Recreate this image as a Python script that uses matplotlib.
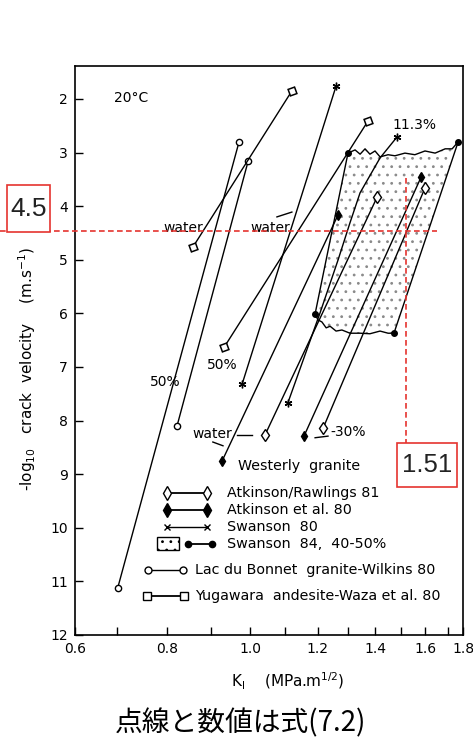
import matplotlib
matplotlib.use('Agg')
import matplotlib.pyplot as plt
from matplotlib.patches import Rectangle, Polygon
from matplotlib.ticker import FixedLocator, NullLocator

# values: K_I (MPa.m^1/2) vs -log10 crack velocity (m/s)
# Atkinson/Rawlings 81 (open diamonds)
ar_k1 = [1.407, 1.041]
ar_v1 = [3.83, 8.27]
ar_k2 = [1.600, 1.217]
ar_v2 = [3.66, 8.14]
# Atkinson et al. 80 (filled diamonds)
ae_k1 = [1.267, 0.928]
ae_v1 = [4.16, 8.75]
ae_k2 = [1.583, 1.156]
ae_v2 = [3.46, 8.29]
# Swanson 80 (stars)
s80_k1 = [1.260, 0.979]
s80_v1 = [1.76, 7.32]
s80_k2 = [1.484, 1.418, 1.344, 1.308, 1.267, 1.207, 1.107]
s80_v2 = [2.71, 3.10, 3.75, 4.31, 5.00, 5.99, 7.67]
# Swanson 84, 40-50% (dots + stippled band)
s84_left_k = [1.301, 1.191]
s84_left_v = [3.01, 6.01]
s84_right_k = [1.749, 1.472]
s84_right_v = [2.80, 6.37]
s84_top_k = [1.301, 1.326, 1.344, 1.362, 1.380, 1.399, 1.418, 1.449, 1.476,
             1.516, 1.557, 1.600, 1.644, 1.689, 1.721, 1.749]
s84_top_v = [3.01, 2.95, 3.03, 2.93, 3.03, 2.97, 3.08, 3.04, 3.06,
             3.01, 3.04, 2.97, 3.01, 2.93, 2.93, 2.80]
s84_bot_k = [1.191, 1.200, 1.213, 1.227, 1.240, 1.260, 1.280, 1.308, 1.344,
             1.380, 1.418, 1.449, 1.472]
s84_bot_v = [6.01, 6.12, 6.16, 6.27, 6.24, 6.33, 6.31, 6.37, 6.37,
             6.38, 6.33, 6.37, 6.37]
# Lac du Bonnet granite - Wilkins 80 (small circles)
lb_k1 = [0.971, 0.701]
lb_v1 = [2.80, 11.12]
lb_k2 = [0.995, 0.822]
lb_v2 = [3.16, 8.10]
# Yugawara andesite - Waza et al. 80 (squares)
yg_k1 = [1.119, 0.858]
yg_v1 = [1.85, 4.76]
yg_k2 = [1.373, 0.933]
yg_v2 = [2.41, 6.63]

# red overlay (eq. 7.2)
red_v = 4.46
red_k = 1.52
red_v_text = '4.5'
red_k_text = '1.51'

x_ticks = [0.625, 0.7, 0.8, 0.9, 1.0, 1.1, 1.2, 1.3, 1.4, 1.5, 1.6, 1.7, 1.772]
x_labels = ['0.6', '', '0.8', '', '1.0', '', '1.2', '', '1.4', '', '1.6', '', '1.8']
y_ticks = [2, 3, 4, 5, 6, 7, 8, 9, 10, 11, 12]

plt.rcParams['font.family'] = ['DejaVu Sans']
fig = plt.figure(figsize=(4.73, 7.40), dpi=100)
ax = fig.add_axes([0.1586, 0.1419, 0.8203, 0.7689])

lw = 1.0
k = 'black'
plt.rcParams['hatch.linewidth'] = 0.8

# stippled band
band = list(zip(s84_top_k, s84_top_v)) + list(zip(s84_bot_k[::-1], s84_bot_v[::-1]))
ax.add_patch(Polygon(band, closed=True, facecolor='none', edgecolor='#8a8a8a',
                     hatch='..', linewidth=0, zorder=1))
ax.plot(s84_top_k, s84_top_v, color=k, lw=lw)
ax.plot(s84_bot_k, s84_bot_v, color=k, lw=lw)
ax.plot(s84_left_k, s84_left_v, color=k, lw=lw, marker='o', ms=4, mfc=k)
ax.plot(s84_right_k, s84_right_v, color=k, lw=lw, marker='o', ms=4, mfc=k)

for kk, vv in [(ar_k1, ar_v1), (ar_k2, ar_v2)]:
    ax.plot(kk, vv, color=k, lw=lw, marker='d', ms=6, mfc='white', mew=1.0, zorder=3)
for kk, vv in [(ae_k1, ae_v1), (ae_k2, ae_v2)]:
    ax.plot(kk, vv, color=k, lw=lw, marker='d', ms=5.5, mfc=k, zorder=3)
ax.plot(s80_k1, s80_v1, color=k, lw=lw, marker=(6, 2, 0), ms=5.5, mew=1.0, zorder=3)
ax.plot(s80_k2, s80_v2, color=k, lw=lw, marker=(6, 2, 0), ms=5.5, mew=1.0,
        markevery=[0, len(s80_k2) - 1], zorder=3)
for kk, vv in [(lb_k1, lb_v1), (lb_k2, lb_v2)]:
    ax.plot(kk, vv, color=k, lw=lw, marker='o', ms=4.5, mfc='white', mew=1.0, zorder=3)
for kk, vv in [(yg_k1, yg_v1), (yg_k2, yg_v2)]:
    ax.plot(kk, vv, color=k, lw=lw, marker=(4, 0, 65), ms=7, mfc='white', mew=1.1, zorder=3)

# labels on the plot
fs = 10
ax.text(0.726, 1.98, '20°C', fontsize=fs, ha='center', va='center')
ax.text(1.557, 2.49, '11.3%', fontsize=fs, ha='center', va='center')
ax.text(0.835, 4.41, 'water', fontsize=fs, ha='center', va='center')
ax.text(1.055, 4.41, 'water', fontsize=fs, ha='center', va='center')
ax.plot([1.075, 1.119], [4.20, 4.11], color=k, lw=lw)
ax.text(0.928, 6.96, '50%', fontsize=fs, ha='center', va='center')
ax.text(0.796, 7.28, '50%', fontsize=fs, ha='center', va='center')
ax.text(0.903, 8.25, 'water', fontsize=fs, ha='center', va='center')
ax.plot([0.966, 1.005], [8.27, 8.27], color=k, lw=lw)
ax.plot([0.905, 0.930], [8.40, 8.47], color=k, lw=lw)
ax.text(1.301, 8.21, '-30%', fontsize=fs, ha='center', va='center')
ax.plot([1.191, 1.233], [8.32, 8.29], color=k, lw=lw)

# hand-made legend
tr = ax.transAxes
ax.text(0.420, 0.297, 'Westerly  granite', transform=tr, fontsize=10.3, va='center')
rows = [0.2496, 0.2197, 0.1898, 0.1599, 0.1142, 0.0685]
ax.plot([0.2371, 0.3402], [rows[0]] * 2, transform=tr, color=k, lw=1.3,
        marker='d', ms=7, mfc='white')
ax.plot([0.2371, 0.3402], [rows[1]] * 2, transform=tr, color=k, lw=1.3,
        marker='d', ms=7, mfc=k)
ax.plot([0.2371, 0.3402], [rows[2]] * 2, transform=tr, color=k, lw=1.0,
        marker='x', ms=4, mew=1.0)
ax.add_patch(Rectangle((0.2113, 0.1494), 0.0567, 0.0228, transform=tr,
                       facecolor='white', edgecolor=k, hatch='..', lw=1.0))
ax.plot([0.2912, 0.3531], [rows[3]] * 2, transform=tr, color=k, lw=1.3,
        marker='o', ms=4.5, mfc=k)
ax.plot([0.1881, 0.2784], [rows[4]] * 2, transform=tr, color=k, lw=1.0,
        marker='o', ms=5, mfc='white')
ax.plot([0.1856, 0.2809], [rows[5]] * 2, transform=tr, color=k, lw=1.3,
        marker='s', ms=6, mfc='white')
legend_text = ['Atkinson/Rawlings 81', 'Atkinson et al. 80', 'Swanson  80',
               'Swanson  84,  40-50%', 'Lac du Bonnet  granite-Wilkins 80',
               'Yugawara  andesite-Waza et al. 80']
for i, t in enumerate(legend_text):
    x0 = 0.3918 if i < 4 else 0.3093
    ax.text(x0, rows[i], t, transform=tr, fontsize=10.3, va='center')

# axes
ax.set_xscale('log')
ax.set_xlim(x_ticks[0], x_ticks[-1])
ax.xaxis.set_major_locator(FixedLocator(x_ticks))
ax.xaxis.set_minor_locator(NullLocator())
ax.set_xticklabels(x_labels)
ax.set_ylim(12, 1.385)
ax.set_yticks(y_ticks)
ax.tick_params(direction='in', length=6, width=1.0, labelsize=10, pad=5)
for sp in ax.spines.values():
    sp.set_linewidth(1.2)
ax.set_ylabel(r'-log$_{10}$   crack  velocity    (m.s$^{-1}$)', fontsize=11)
ax.yaxis.set_label_coords(-0.095, 0.468)
ax.set_xlabel(r'K$_\mathrm{I}$    (MPa.m$^{1/2}$)', fontsize=11)
ax.xaxis.set_label_coords(0.549, -0.063)

# red overlay
red = '#e5332f'
k_left = ax.transData.inverted().transform(fig.transFigure.transform((0, 0)))[0]
ax.plot([k_left, 1.653], [red_v, red_v], color=red, lw=1.2, dashes=(3.4, 2.0),
        clip_on=False, zorder=5)
ax.plot([red_k, red_k], [3.47, 8.42], color=red, lw=1.2, dashes=(3.4, 2.0),
        clip_on=False, zorder=5)
fig.add_artist(Rectangle((0.0148, 0.6865), 0.0909, 0.0635, transform=fig.transFigure,
                         facecolor='white', edgecolor=red, lw=1.2))
fig.text(0.0603, 0.7182, red_v_text, fontsize=19, family='Liberation Sans',
         color='#222222', ha='center', va='center')
fig.add_artist(Rectangle((0.8393, 0.3419), 0.1268, 0.0595, transform=fig.transFigure,
                         facecolor='white', edgecolor=red, lw=1.2, zorder=6))
fig.text(0.9027, 0.3716, red_k_text, fontsize=18.5, family='Liberation Sans',
         color='#222222', ha='center', va='center', zorder=7)

fig.text(0.509, 0.023, '点線と数値は式(7.2)', fontsize=20,
         family=['Noto Sans CJK JP', 'DejaVu Sans'], ha='center', va='center')

fig.savefig('out.png', dpi=100)
